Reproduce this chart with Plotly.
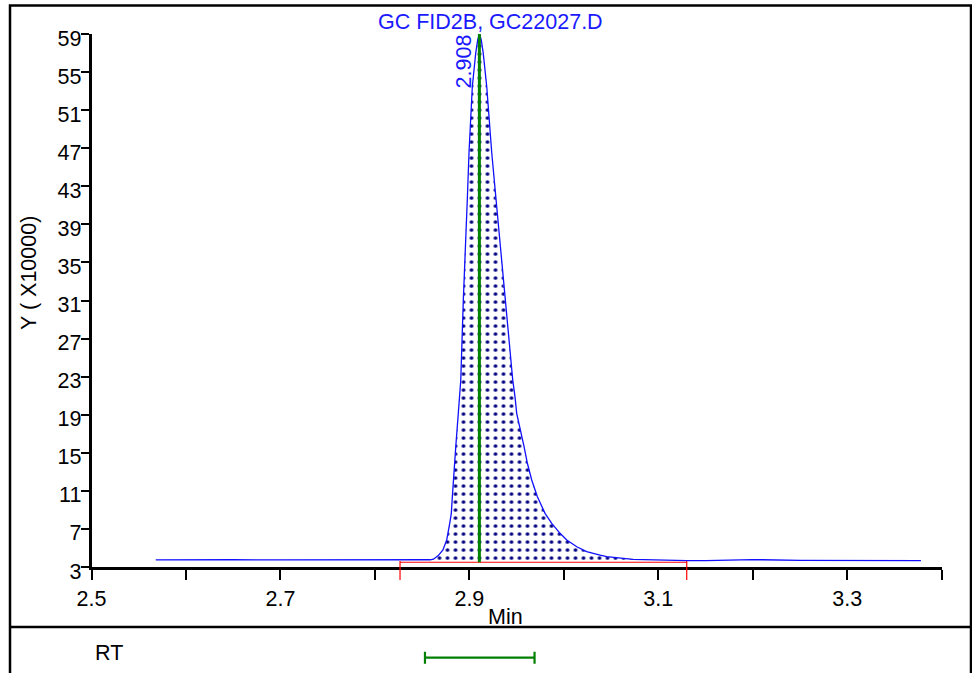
import plotly.graph_objects as go

# ---------------- data ----------------
time_min = [2.568, 2.600, 2.622, 2.650, 2.700, 2.750, 2.800, 2.8266, 2.850, 2.8584,
            2.8620, 2.8671, 2.8720, 2.8760, 2.8792, 2.8809, 2.8820, 2.8830, 2.8845,
            2.8856, 2.8883, 2.8909, 2.8936, 2.8965, 2.8978, 2.8996, 2.9031, 2.9067,
            2.9088, 2.9106, 2.9126, 2.9147, 2.9184, 2.9237, 2.9282, 2.9300, 2.9377,
            2.9459, 2.9483, 2.9501, 2.9579, 2.9614, 2.9660, 2.9720, 2.9801, 2.9872,
            2.9960, 3.0031, 3.0137, 3.0242, 3.0383, 3.0454, 3.0733, 3.1000, 3.1301,
            3.150, 3.200, 3.250, 3.300, 3.378]
signal_x10000 = [3.74, 3.76, 3.80, 3.76, 3.74, 3.74, 3.74, 3.74, 3.74, 3.76,
                 3.82, 4.20, 4.80, 5.84, 7.59, 8.64, 10.39, 12.14, 13.9,
                 15.64, 19.15, 22.65, 31.05, 39.8, 41.56, 46.5, 53.46, 56.97,
                 58.37, 59.0, 58.37, 56.97, 53.46, 46.5, 41.56, 39.8, 31.05,
                 22.65, 20.9, 19.15, 15.64, 13.9, 12.14, 10.39, 8.64, 7.59,
                 6.54, 5.84, 5.13, 4.61, 4.26, 4.08, 3.80, 3.72, 3.68,
                 3.68, 3.78, 3.70, 3.68, 3.68]

peak_rt_drawn = 2.9106
peak_label = "2.908"
peak_height = 59.0
integration_start = 2.8266
integration_end = 3.1301
integration_baseline = 3.5
rt_window = [2.853, 2.969]

x_tick_start, x_range = 2.5, [2.5, 3.4]
y_range = [3, 59]
y_tick_step = 4

title_text = "GC FID2B, GC22027.D"
x_title = "Min"
y_title = "Y ( X10000)"
rt_text = "RT"

# ---------------- figure ----------------
W, H = 972, 673
FONT = "Liberation Sans, Arial, sans-serif"
FS = 21.5

fig = go.Figure()

seg = [(t, v) for t, v in zip(time_min, signal_x10000) if integration_start <= t <= integration_end]
fx = [p[0] for p in seg] + [integration_end, integration_start]
fy = [p[1] for p in seg] + [integration_baseline, integration_baseline]
fig.add_trace(go.Scatter(
    x=fx, y=fy, mode="none", fill="toself", fillcolor="white",
    fillpattern=dict(shape=".", fgcolor="#000080", bgcolor="white", size=8, solidity=0.17),
    hoverinfo="skip"))

fig.add_trace(go.Scatter(x=[integration_start, integration_end],
                         y=[integration_baseline, integration_baseline],
                         mode="lines", line=dict(color="#ff0000", width=1.2)))

fig.add_trace(go.Scatter(x=time_min, y=signal_x10000, mode="lines",
                         line=dict(color="#1010ff", width=1.3)))

fig.add_trace(go.Scatter(x=[peak_rt_drawn, peak_rt_drawn],
                         y=[integration_baseline, peak_height], mode="lines",
                         line=dict(color="#008000", width=3)))

rt_c = (rt_window[0] + rt_window[1]) / 2
rt_h = (rt_window[1] - rt_window[0]) / 2
fig.add_trace(go.Scatter(x=[rt_c], y=[0.5], xaxis="x", yaxis="y2", mode="markers",
                         marker=dict(size=1, color="rgba(0,0,0,0)"),
                         error_x=dict(type="data", array=[rt_h], color="#008000",
                                      thickness=2.2, width=6)))

px_x = lambda p: p / W
px_y = lambda p: (H - p) / H

fig.update_layout(
    template="none",
    width=W, height=H, margin=dict(l=0, r=0, t=0, b=0, pad=0, autoexpand=False),
    paper_bgcolor="white", plot_bgcolor="white", showlegend=False,
    font=dict(family=FONT, size=FS, color="black"),
    xaxis=dict(domain=[px_x(91.5), px_x(941.7)], range=x_range, anchor="y",
               automargin=False,
               tick0=x_tick_start, dtick=0.2, tickformat=".1f",
               ticks="outside", ticklen=10, tickwidth=2, tickcolor="black",
               minor=dict(tick0=x_tick_start, dtick=0.1, ticks="outside", ticklen=10,
                          tickwidth=2, tickcolor="black", showgrid=False),
               showline=True, linewidth=2.5, linecolor="black",
               showgrid=False, zeroline=False,
               tickfont=dict(family=FONT, size=FS, color="black")),
    yaxis=dict(domain=[1 - 567 / H, 1 - 34 / H], range=y_range, anchor="x",
               automargin=False,
               tick0=y_range[0], dtick=y_tick_step,
               ticks="outside", ticklen=8, tickwidth=2, tickcolor="black",
               showline=True, linewidth=2.5, linecolor="black",
               showgrid=False, zeroline=False, ticklabelstandoff=-5, ticklabelshift=4,
               tickfont=dict(family=FONT, size=FS, color="black")),
    yaxis2=dict(domain=[0, 2 * (H - 657.7) / H], range=[0, 1], anchor="x",
                visible=False, automargin=False),
)

shapes = [
    dict(type="rect", xref="paper", yref="paper", x0=px_x(10), x1=px_x(971),
         y0=-0.05, y1=px_y(5.5), line=dict(color="black", width=2.5)),
    dict(type="line", xref="paper", yref="paper", x0=px_x(10), x1=px_x(971),
         y0=px_y(627), y1=px_y(627), line=dict(color="black", width=2.5)),
]
for xv in (integration_start, integration_end):
    shapes.append(dict(type="line", xref="x", yref="y domain", x0=xv, x1=xv,
                       y0=-13 / 533, y1=6 / 533, line=dict(color="#ff0000", width=1.2)))
fig.update_layout(shapes=shapes)

fig.add_annotation(text=title_text, xref="paper", yref="paper", x=px_x(490), y=px_y(22),
                   xanchor="center", yanchor="middle", showarrow=False,
                   font=dict(family=FONT, size=FS, color="#1a1aff"))
fig.add_annotation(text=peak_label, xref="x", yref="y", x=peak_rt_drawn, y=peak_height,
                   xshift=-15, yshift=-27, textangle=-90, xanchor="center", yanchor="middle",
                   showarrow=False, font=dict(family=FONT, size=FS, color="#1a1aff"))
fig.add_annotation(text=x_title, xref="paper", yref="paper", x=px_x(505), y=px_y(617),
                   xanchor="center", yanchor="middle", showarrow=False,
                   font=dict(family=FONT, size=FS, color="black"))
fig.add_annotation(text=y_title, xref="paper", yref="paper", x=px_x(29), y=px_y(273),
                   xanchor="center", yanchor="middle", textangle=-90, showarrow=False,
                   font=dict(family=FONT, size=FS, color="black"))
fig.add_annotation(text=rt_text, xref="paper", yref="paper", x=px_x(93), y=px_y(653),
                   xanchor="left", yanchor="middle", showarrow=False,
                   font=dict(family=FONT, size=FS, color="black"))

fig.write_html("out.html", config={"displayModeBar": False},
               post_script="document.body.style.margin='0';document.body.style.overflow='hidden';")
